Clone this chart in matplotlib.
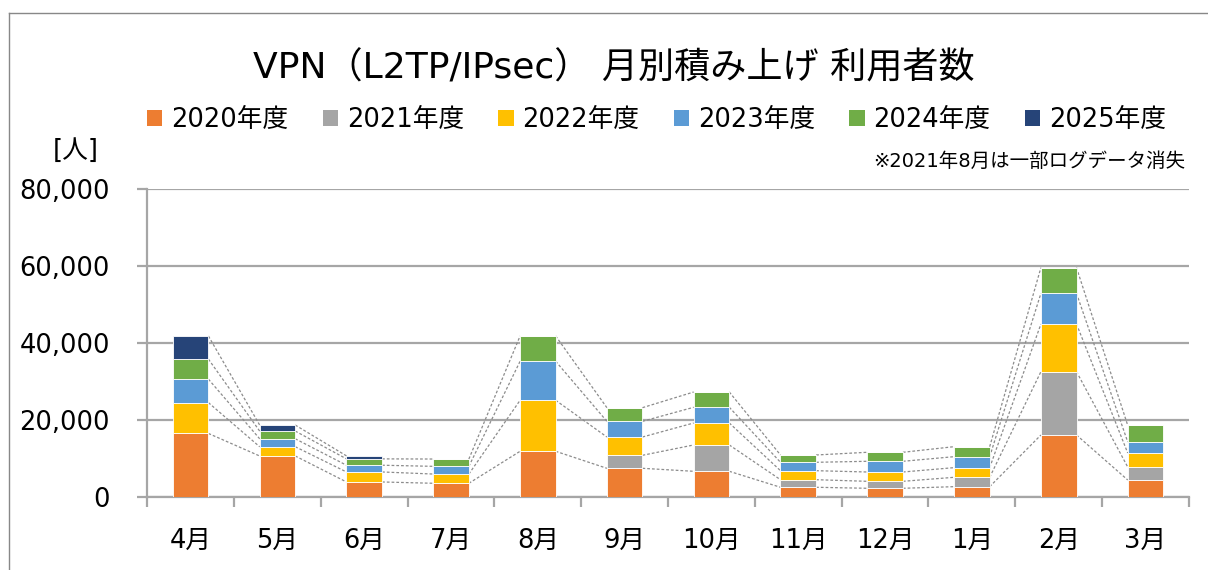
import numpy as np
import matplotlib
matplotlib.use('Agg')
import matplotlib.pyplot as plt
from matplotlib.patches import Patch
from matplotlib.lines import Line2D
from matplotlib.ticker import FuncFormatter

# 日本語はNoto Sans CJK JPで表示（英数字はDejaVu Sans）
plt.rcParams['font.family'] = ['DejaVu Sans', 'Noto Sans CJK JP']

# --- データ ---
months = ['4月', '5月', '6月', '7月', '8月', '9月', '10月', '11月', '12月', '1月', '2月', '3月']
years = ['2020年度', '2021年度', '2022年度', '2023年度', '2024年度', '2025年度']

fy2020 = [16500, 10650, 3900, 3560, 11870, 7450, 6670, 2520, 2260, 2680, 16100, 4420]
fy2021 = [0, 0, 0, 0, 0, 3380, 6840, 1970, 1810, 2430, 16450, 3370]
fy2022 = [8000, 2400, 2600, 2400, 13250, 4750, 5710, 2340, 2420, 2510, 12380, 3640]
fy2023 = [6100, 2070, 1750, 2000, 10130, 4080, 4080, 2180, 2780, 2850, 7970, 2860]
fy2024 = [5200, 2000, 1650, 1900, 6570, 3540, 3970, 1900, 2340, 2600, 6670, 4330]
fy2025 = [6000, 1560, 780, 0, 0, 0, 0, 0, 0, 0, 0, 0]

colors = ['#ED7D31', '#A5A5A5', '#FFC000', '#5B9BD5', '#70AD47', '#264478']
grid_color = '#a6a6a6'

# --- 図の準備 ---
fig = plt.figure(figsize=(12.08, 5.7), dpi=100)
ax = fig.add_axes([0.1219, 0.1281, 0.8623, 0.5403])

x = np.arange(len(months))
width = 0.41
series = [fy2020, fy2021, fy2022, fy2023, fy2024, fy2025]

# 積み上げ棒
bottom = np.zeros(len(months))
tops = []
for vals, c, lab in zip(series, colors, years):
    vals = np.array(vals, dtype=float)
    ax.bar(x, vals, width, bottom=bottom, color=c, edgecolor='white',
           linewidth=0.6, label=lab, zorder=3)
    bottom = bottom + vals
    tops.append((vals, bottom.copy()))

# 区分線（隣の棒の同じ系列の上端を点線でつなぐ）
for vals, top in tops:
    for i in range(len(x) - 1):
        if vals[i] > 0 and vals[i + 1] > 0:
            ax.plot([x[i] + width / 2, x[i + 1] - width / 2], [top[i], top[i + 1]],
                    ls=(0, (2.2, 1.6)), color='#8c8c8c', lw=0.9, zorder=2)

# --- 軸 ---
ax.set_xlim(-0.5, len(months) - 0.5)
ax.set_ylim(0, 80000)
ax.set_yticks(np.arange(0, 80001, 20000))
ax.yaxis.set_major_formatter(FuncFormatter(lambda v, p: f'{int(v):,}'))
ax.grid(axis='y', color=grid_color, lw=1.6, zorder=0)
ax.set_axisbelow(True)

for s in ['top', 'right']:
    ax.spines[s].set_visible(False)
for s in ['left', 'bottom']:
    ax.spines[s].set_color(grid_color)
    ax.spines[s].set_linewidth(1.6)

ax.set_xticks(np.arange(-0.5, len(months), 1))
ax.set_xticklabels([])
ax.set_xticks(x, minor=True)
ax.set_xticklabels(months, minor=True)
ax.tick_params(axis='x', which='major', length=7, width=1.6, color=grid_color)
ax.tick_params(axis='x', which='minor', length=0, labelsize=18.5, pad=22)
ax.tick_params(axis='y', length=7, width=1.6, color=grid_color, labelsize=18.5, pad=20)

# --- タイトル・凡例・注記 ---
fig.text(0.508, 1 - 79 / 570, 'VPN（L2TP/IPsec） 月別積み上げ 利用者数',
         ha='center', va='baseline', fontsize=26)

handles = [Patch(facecolor=c, edgecolor='none') for c in colors]
fig.legend(handles, years, loc='center left', bbox_to_anchor=(147 / 1208, 1 - 120 / 570),
           ncol=6, frameon=False, fontsize=18.5, handlelength=0.6, handleheight=0.6,
           handletextpad=0.35, columnspacing=1.32, borderpad=0, borderaxespad=0)

fig.text(76 / 1208, 1 - 151 / 570, '[人]', ha='center', va='center', fontsize=18.5)
fig.text(1185 / 1208, 1 - 166.7 / 570, '※2021年8月は一部ログデータ消失',
         ha='right', va='baseline', fontsize=14)

# 外枠（上と左）
fig.add_artist(Line2D([9 / 1208, 9 / 1208], [0, 1 - 13 / 570], color='#888888', lw=1.0))
fig.add_artist(Line2D([9 / 1208, 1], [1 - 13 / 570, 1 - 13 / 570], color='#888888', lw=1.0))

fig.savefig('out.png', dpi=100)
